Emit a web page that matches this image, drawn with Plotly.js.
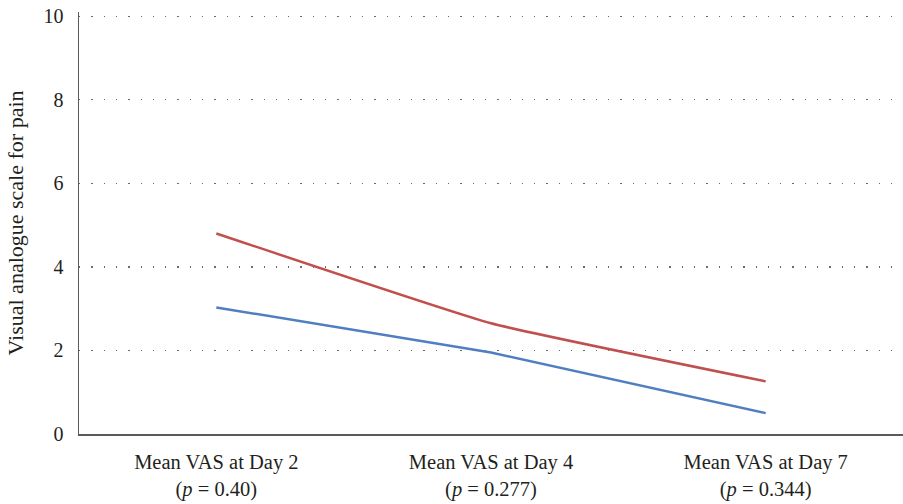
<!DOCTYPE html>
<html>
<head>
<meta charset="utf-8">
<script src="https://cdn.plot.ly/plotly-3.0.1.min.js"></script>
<style>html,body{margin:0;padding:0;background:#fff;}#chart{width:903px;height:504px;}</style>
</head>
<body>
<div id="chart"></div>
<script>
var categories = [
  "Mean VAS at Day 2<br>(<i>p</i> = 0.40)",
  "Mean VAS at Day 4<br>(<i>p</i> = 0.277)",
  "Mean VAS at Day 7<br>(<i>p</i> = 0.344)"
];
var redSeries = [4.80, 2.65, 1.26];
var blueSeries = [3.03, 1.95, 0.50];
var yTicks = [0, 2, 4, 6, 8, 10];

var font = "'Liberation Serif', 'DejaVu Serif', serif";
var traces = [
  {x: categories, y: redSeries, type: 'scatter', mode: 'lines',
   line: {color: '#C0504D', width: 2.5, shape: 'spline', smoothing: 0.35}, showlegend: false, hoverinfo: 'skip'},
  {x: categories, y: blueSeries, type: 'scatter', mode: 'lines',
   line: {color: '#4F7FC0', width: 2.5, shape: 'spline', smoothing: 0.2}, showlegend: false, hoverinfo: 'skip'}
];
var layout = {
  width: 903, height: 504,
  margin: {l: 79, r: 0, t: 12, b: 70},
  paper_bgcolor: '#fff', plot_bgcolor: '#fff',
  font: {family: font, size: 20, color: '#231F20'},
  showlegend: false,
  xaxis: {
    type: 'category', range: [-0.5, 2.5],
    showgrid: false, zeroline: false,
    showline: true, linecolor: '#5a5a5a', linewidth: 1.5,
    ticks: '', ticklabelstandoff: 9, tickfont: {family: font, size: 20.5, color: '#231F20'},
    automargin: false, fixedrange: true
  },
  yaxis: {
    range: [0, 10.1], tickvals: yTicks, ticktext: yTicks.map(String),
    showgrid: true, gridcolor: '#6a6a6a', gridwidth: 1.3, griddash: '1.3px,11px',
    zeroline: false, showline: true, linecolor: '#5a5a5a', linewidth: 1.5,
    ticks: '', ticklabelstandoff: 10,
    tickfont: {family: font, size: 20, color: '#231F20'},
    title: {text: 'Visual analogue scale for pain', font: {family: font, size: 22, color: '#231F20'}, standoff: 14},
    automargin: false, fixedrange: true
  }
};
Plotly.newPlot('chart', traces, layout, {displayModeBar: false, staticPlot: true});
</script>
</body>
</html>
